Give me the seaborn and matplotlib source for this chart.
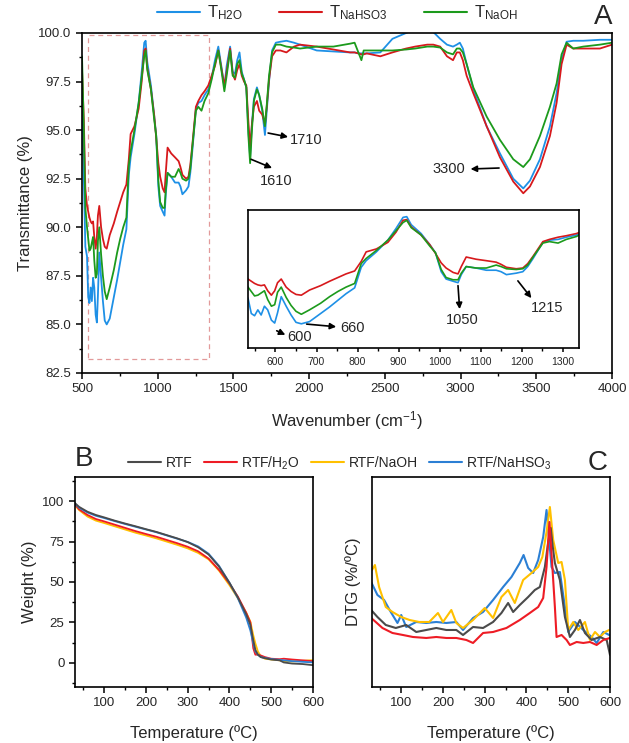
import numpy as np
import pandas as pd
import seaborn as sns
import matplotlib.pyplot as plt
from matplotlib.lines import Line2D
from matplotlib.patches import Rectangle
from matplotlib.ticker import MultipleLocator, FormatStrFormatter

# ---- FTIR spectra (panel A) ----
wavenumber = [500, 512, 522, 533, 541, 549, 557, 565, 573, 581, 590, 598,
              605, 614, 626, 638, 650, 663, 683, 710, 732, 752, 772, 793,
              809, 821, 846, 874, 894, 911, 920, 931, 955, 976, 990, 1004,
              1016, 1033, 1045, 1053, 1065, 1089, 1114, 1138, 1150, 1163,
              1187, 1203, 1215, 1228, 1252, 1268, 1289, 1309, 1334,
              1356, 1378, 1400, 1422, 1440, 1455, 1478, 1495, 1510, 1525,
              1540, 1555, 1570, 1585, 1598, 1610, 1622, 1635, 1655, 1670,
              1690, 1708, 1720, 1735, 1755, 1780, 1810, 1850, 1900, 1940,
              2050, 2160, 2270, 2300, 2325, 2345, 2360, 2380, 2470, 2550,
              2640, 2700, 2780, 2820, 2865, 2910, 2950, 2975, 2995, 3015,
              3040, 3084, 3172, 3260, 3348, 3414, 3458, 3524, 3590, 3634,
              3667, 3700, 3744, 3810, 3920, 4000]

t_nahso3 = [98.1, 95.5, 92.0, 91.1, 90.8, 90.5, 90.3, 90.2, 90.3, 89.5, 88.9, 89.5,
            90.6, 91.1, 90.0, 89.4, 89.0, 88.9, 89.6, 90.2, 90.8, 91.3, 91.8, 92.2,
            93.5, 94.8, 95.2, 96.1, 97.5, 99.1, 99.2, 98.2, 97.1, 95.8, 94.6, 93.3,
            92.6, 92.0, 91.8, 92.8, 94.1, 93.8, 93.6, 93.4, 93.1, 92.7,
            92.5, 92.6, 93.2, 94.2, 96.2, 96.5, 96.8, 97.0, 97.3,
            97.8, 98.3, 99.1, 98.1, 97.3, 98.0, 99.2, 97.9, 97.6, 98.1,
            98.4, 97.8, 97.5, 97.3, 95.5, 94.1, 95.3, 96.2, 96.5, 96.0,
            95.8, 95.3, 96.2, 97.6, 98.8, 99.1, 99.1, 99.0, 99.3, 99.4,
            99.3, 99.15, 99.0, 99.0, 98.95, 98.9, 98.9, 98.95, 98.8, 99.0,
            99.2, 99.3, 99.4, 99.4, 99.3, 98.8, 98.6, 99.0, 99.0, 98.6,
            97.8, 96.9, 95.2, 93.6, 92.35, 91.75, 92.1, 93.1, 94.7, 96.4,
            98.4, 99.4, 99.2, 99.2, 99.2, 99.4]

t_naoh = [98.8, 95.0, 91.0, 90.0, 89.4, 88.8, 88.9, 89.2, 89.5, 88.3, 87.4, 87.6,
          89.3, 90.0, 88.6, 87.5, 86.7, 86.3, 86.9, 87.8, 88.7, 89.4, 90.0, 90.5,
          93.2, 93.9, 95.0, 96.4, 97.7, 98.8, 99.1, 98.1, 97.1, 95.6, 94.7, 92.4,
          91.3, 91.0, 91.0, 91.9, 92.8, 92.6, 92.6, 93.0, 92.8, 92.5,
          92.4, 92.5, 93.0, 94.1, 96.0, 96.2, 96.0, 96.5, 96.9,
          97.6, 98.4, 99.1, 98.0, 97.0, 97.8, 99.1, 97.8, 97.7, 98.4,
          98.6, 97.9, 97.6, 97.2, 94.8, 93.3, 95.0, 96.5, 97.1, 96.8,
          96.1, 95.2, 96.3, 97.8, 99.0, 99.4, 99.4, 99.3, 99.25, 99.2,
          99.3, 99.3, 99.45, 99.5, 99.0, 98.6, 99.1, 99.1, 99.1, 99.1,
          99.15, 99.2, 99.3, 99.3, 99.25, 99.0, 98.9, 99.2, 99.2, 99.0,
          98.4, 97.2, 95.7, 94.5, 93.5, 93.1, 93.5, 94.7, 96.2, 97.4,
          98.9, 99.5, 99.2, 99.3, 99.4, 99.5]

t_h2o = [96.0, 92.5, 89.0, 88.5, 86.4, 86.1, 86.9, 86.2, 87.4, 86.9, 85.5, 85.1,
         86.5, 88.7, 87.4, 86.2, 85.2, 85.0, 85.3, 86.4, 87.3, 88.2, 89.1, 89.9,
         92.7, 93.6, 94.8, 96.4, 98.0, 99.5, 99.6, 98.5, 97.3, 95.8, 94.7, 92.1,
         91.1, 90.8, 90.6, 91.7, 92.8, 92.6, 92.3, 92.3, 92.1, 91.7,
         91.9, 92.1, 92.8, 93.9, 96.1, 96.4, 96.5, 96.8, 97.1,
         97.7, 98.6, 99.3, 98.2, 97.2, 98.3, 99.3, 98.0, 97.9, 98.6,
         99.0, 98.0, 97.6, 97.2, 95.1, 93.6, 95.3, 96.6, 97.2, 96.8,
         96.0, 94.75, 96.0, 97.5, 99.1, 99.5, 99.55, 99.6, 99.5, 99.4,
         99.1, 99.05, 99.0, 99.0, 98.95, 98.95, 98.95, 98.95, 99.0, 99.7,
         100.0, 100.2, 100.2, 100.05, 99.7, 99.4, 99.3, 99.4, 99.5, 99.2,
         98.4, 97.1, 95.2, 93.8, 92.5, 92.0, 92.4, 93.5, 95.2, 96.9,
         98.6, 99.55, 99.6, 99.6, 99.65, 99.65]

# ---- TGA (panel B) ----
tga_temp = [30, 40, 60, 80, 100, 125, 150, 175, 200, 225, 250, 275, 300, 325,
            350, 375, 400, 420, 440, 450, 457, 462, 468, 475, 485, 500, 520,
            530, 550, 575, 600]
w_rtf = [98.8, 96.5, 93.5, 91.5, 90.0, 88.0, 86.2, 84.5, 82.7, 81.0, 79.0, 77.0,
         74.7, 71.5, 67.0, 59.5, 49.5, 40.5, 30.0, 23.5, 14.0, 8.0, 5.0, 3.5,
         2.8, 2.0, 1.5, 0.2, -0.5, -0.8, -1.5]
w_h2o = [98.0, 95.0, 91.5, 89.0, 87.5, 85.5, 83.5, 81.5, 79.7, 78.0, 76.0, 74.0,
         71.8, 69.0, 64.5, 57.5, 49.0, 41.0, 31.0, 25.0, 9.0, 5.0, 5.0, 4.5,
         3.5, 2.5, 2.2, 2.5, 2.0, 1.5, 1.0]
w_naoh = [97.5, 94.5, 90.5, 88.0, 86.5, 84.5, 82.5, 80.5, 78.8, 77.0, 75.0, 73.0,
          70.8, 68.0, 64.0, 57.0, 48.0, 40.0, 31.0, 25.5, 17.0, 12.0, 7.0, 4.0,
          2.5, 2.0, 1.5, 1.0, 0.8, 1.2, 1.6]
w_nahso3 = [98.5, 96.0, 93.0, 91.0, 89.6, 87.7, 85.9, 84.2, 82.5, 80.8, 78.8, 76.8,
            74.8, 72.0, 67.5, 60.0, 49.5, 40.0, 28.0, 20.0, 12.0, 7.0, 5.0, 3.5,
            3.0, 2.3, 1.8, 1.5, 1.0, 0.6, 0.2]

# ---- DTG (panel C), arbitrary units ----
dtg_t_rtf = [28, 43, 63, 87, 112, 136, 160, 184, 208, 232, 248, 272, 296, 320,
             340, 356, 368, 384, 404, 420, 432, 444, 452, 458, 463, 468, 480,
             492, 504, 516, 528, 540, 556, 576, 592, 600]
dtg_rtf = [0.77, 0.70, 0.62, 0.59, 0.62, 0.55, 0.57, 0.59, 0.57, 0.57, 0.52,
           0.60, 0.59, 0.65, 0.74, 0.84, 0.75, 0.82, 0.90, 0.97, 1.00, 1.20,
           1.45, 1.59, 1.40, 1.24, 1.07, 0.70, 0.50, 0.57, 0.67, 0.54, 0.47,
           0.50, 0.47, 0.32]
dtg_t_h2o = [28, 39, 55, 79, 104, 128, 160, 184, 208, 232, 256, 272, 296, 320,
             352, 384, 408, 428, 440, 448, 455, 462, 468, 472, 484, 496, 504,
             520, 536, 552, 568, 584, 600]
dtg_h2o = [0.69, 0.65, 0.59, 0.54, 0.52, 0.50, 0.49, 0.50, 0.49, 0.49, 0.47,
           0.44, 0.54, 0.55, 0.59, 0.67, 0.74, 0.80, 0.89, 1.20, 1.65, 1.20,
           0.80, 0.50, 0.52, 0.47, 0.42, 0.45, 0.44, 0.45, 0.42, 0.47, 0.49]
dtg_t_naoh = [30, 37, 47, 63, 79, 100, 120, 143, 167, 188, 200, 220, 232, 248,
              272, 300, 320, 340, 356, 372, 392, 412, 428, 438, 448, 456, 464,
              476, 484, 492, 500, 512, 524, 540, 552, 564, 576, 588, 598]
dtg_naoh = [1.17, 1.22, 1.00, 0.80, 0.75, 0.70, 0.67, 0.65, 0.65, 0.74, 0.65,
            0.77, 0.64, 0.59, 0.67, 0.79, 0.69, 0.90, 0.97, 0.84, 1.07, 1.14,
            1.20, 1.30, 1.55, 1.80, 1.47, 1.24, 1.25, 1.07, 0.57, 0.65, 0.57,
            0.65, 0.47, 0.55, 0.50, 0.55, 0.57]
dtg_t_nahso3 = [28, 43, 59, 75, 91, 100, 112, 136, 160, 184, 208, 232, 248, 272,
                296, 320, 344, 364, 384, 393, 404, 416, 428, 440, 448, 460, 468,
                480, 492, 500, 516, 536, 556, 568, 584, 598]
dtg_nahso3 = [1.05, 0.92, 0.87, 0.75, 0.64, 0.72, 0.60, 0.65, 0.64, 0.65, 0.64,
              0.65, 0.57, 0.69, 0.75, 0.87, 1.00, 1.10, 1.24, 1.32, 1.19, 1.14,
              1.27, 1.50, 1.77, 1.20, 1.14, 1.15, 0.80, 0.55, 0.65, 0.57, 0.50,
              0.44, 0.55, 0.52]

ftir_names = ['T$_{H2O}$', 'T$_{NaHSO3}$', 'T$_{NaOH}$']
ftir_colors = ['#1e90e6', '#d7191c', '#1c9a1c']
tga_names = ['RTF', 'RTF/H$_2$O', 'RTF/NaOH', 'RTF/NaHSO$_3$']
tga_colors = ['#4b4b4b', '#ee1c25', '#ffc000', '#2b7fd4']

sns.set_theme(style='ticks')
plt.rcParams['font.family'] = ['Liberation Sans', 'DejaVu Sans']
plt.rcParams['mathtext.default'] = 'regular'
plt.rcParams['axes.linewidth'] = 1.2
plt.rcParams['xtick.direction'] = 'out'
plt.rcParams['ytick.direction'] = 'out'

ftir = pd.concat([
    pd.DataFrame({'wn': wavenumber, 'T': t_h2o, 's': ftir_names[0]}),
    pd.DataFrame({'wn': wavenumber, 'T': t_nahso3, 's': ftir_names[1]}),
    pd.DataFrame({'wn': wavenumber, 'T': t_naoh, 's': ftir_names[2]}),
])
tga = pd.concat([
    pd.DataFrame({'temp': tga_temp, 'w': y, 's': n})
    for y, n in zip([w_rtf, w_h2o, w_naoh, w_nahso3], tga_names)
])
dtg = pd.concat([
    pd.DataFrame({'temp': t, 'd': y, 's': n})
    for t, y, n in zip([dtg_t_rtf, dtg_t_h2o, dtg_t_naoh, dtg_t_nahso3],
                       [dtg_rtf, dtg_h2o, dtg_naoh, dtg_nahso3], tga_names)
])
ftir_pal = dict(zip(ftir_names, ftir_colors))
tga_pal = dict(zip(tga_names, tga_colors))


def style_ax(ax, size=9.5):
    for s in ax.spines.values():
        s.set_visible(True)
        s.set_color('black')
        s.set_linewidth(1.2)
    ax.tick_params(which='major', length=4, width=1.1, labelsize=size, color='black')
    ax.tick_params(which='minor', length=2.5, width=1.0, color='black')


fig = plt.figure(figsize=(6.29, 7.43), dpi=100)

# panel A
axA = fig.add_axes([0.1304, 0.498, 0.8426, 0.4576])
sns.lineplot(data=ftir, x='wn', y='T', hue='s', palette=ftir_pal, hue_order=ftir_names,
             estimator=None, lw=1.3, legend=False, ax=axA)
axA.set_xlim(500, 4000)
axA.set_ylim(82.5, 100)
axA.xaxis.set_major_locator(MultipleLocator(500))
axA.xaxis.set_minor_locator(MultipleLocator(250))
axA.yaxis.set_major_locator(MultipleLocator(2.5))
axA.yaxis.set_minor_locator(MultipleLocator(1.25))
axA.yaxis.set_major_formatter(FormatStrFormatter('%.1f'))
axA.set_xlabel('Wavenumber (cm$^{-1}$)', fontsize=12, labelpad=10)
axA.set_ylabel('Transmittance (%)', fontsize=12, labelpad=4)
style_ax(axA)
axA.add_patch(Rectangle((540, 83.2), 800, 16.7, fill=False, ls=(0, (4, 3)),
                        ec='#e29a9a', lw=0.9))
arrow = dict(arrowstyle='-|>', color='black', lw=1.2, mutation_scale=9, shrinkA=0, shrinkB=0)
axA.annotate('', xy=(1861, 94.65), xytext=(1729, 94.85), arrowprops=arrow)
axA.text(1980, 94.5, '1710', fontsize=10.5, ha='center', va='center')
axA.annotate('', xy=(1755, 93.05), xytext=(1616, 93.5), arrowprops=arrow)
axA.text(1783, 92.38, '1610', fontsize=10.5, ha='center', va='center')
axA.annotate('', xy=(3066, 93.0), xytext=(3254, 93.05), arrowprops=arrow)
axA.text(2920, 93.0, '3300', fontsize=10.5, ha='center', va='center')

# inset of A
axI = fig.add_axes([0.3943, 0.5316, 0.5262, 0.1857])
sns.lineplot(data=ftir, x='wn', y='T', hue='s', palette=ftir_pal, hue_order=ftir_names,
             estimator=None, lw=1.2, legend=False, ax=axI)
axI.set_xlim(533, 1340)
axI.set_ylim(81.7, 100.5)
axI.xaxis.set_major_locator(MultipleLocator(100))
axI.xaxis.set_minor_locator(MultipleLocator(50))
axI.set_yticks([])
axI.set_xlabel('')
axI.set_ylabel('')
style_ax(axI, size=7.5)
axI.tick_params(which='major', length=3)
axI.tick_params(which='minor', length=2)
axI.annotate('', xy=(624, 83.5), xytext=(603, 84.05), arrowprops=arrow)
axI.text(658, 83.2, '600', fontsize=10.5, ha='center', va='center')
axI.annotate('', xy=(748, 84.6), xytext=(676, 84.96), arrowprops=arrow)
axI.text(787, 84.4, '660', fontsize=10.5, ha='center', va='center')
axI.annotate('', xy=(1049, 87.0), xytext=(1045, 90.2), arrowprops=arrow)
axI.text(1056, 85.5, '1050', fontsize=10.5, ha='center', va='center')
axI.annotate('', xy=(1224, 88.5), xytext=(1191, 90.85), arrowprops=arrow)
axI.text(1263, 87.1, '1215', fontsize=10.5, ha='center', va='center')

# panel B
axB = fig.add_axes([0.1192, 0.0754, 0.3784, 0.2826])
sns.lineplot(data=tga, x='temp', y='w', hue='s', palette=tga_pal,
             hue_order=[tga_names[i] for i in (2, 1, 3, 0)],
             estimator=None, lw=1.3, legend=False, ax=axB)
axB.set_xlim(30, 600)
axB.set_ylim(-15, 115)
axB.xaxis.set_major_locator(MultipleLocator(100))
axB.xaxis.set_minor_locator(MultipleLocator(50))
axB.yaxis.set_major_locator(MultipleLocator(25))
axB.yaxis.set_minor_locator(MultipleLocator(12.5))
axB.set_xlabel('Temperature (ºC)', fontsize=12, labelpad=11)
axB.set_ylabel('Weight (%)', fontsize=12, labelpad=4)
style_ax(axB)

# panel C
axC = fig.add_axes([0.5914, 0.0754, 0.3784, 0.2826])
sns.lineplot(data=dtg, x='temp', y='d', hue='s', palette=tga_pal,
             hue_order=[tga_names[i] for i in (3, 2, 0, 1)],
             estimator=None, sort=False, lw=1.5, legend=False, ax=axC)
axC.set_xlim(30, 600)
axC.set_ylim(0, 2.1)
axC.xaxis.set_major_locator(MultipleLocator(100))
axC.xaxis.set_minor_locator(MultipleLocator(50))
axC.set_yticks([])
axC.set_xlabel('Temperature (ºC)', fontsize=12, labelpad=11)
axC.set_ylabel('DTG (%/ºC)', fontsize=12, labelpad=8)
style_ax(axC)

# legends and panel letters
hA = [Line2D([], [], color=c, lw=1.5) for c in ftir_colors]
fig.legend(hA, ftir_names, loc='center', bbox_to_anchor=(337 / 629, 1 - 13 / 743),
           ncol=3, frameon=False, fontsize=12, handlelength=2.6, handletextpad=0.4,
           columnspacing=2.2, borderaxespad=0)
hB = [Line2D([], [], color=c, lw=1.5) for c in tga_colors]
fig.legend(hB, tga_names, loc='center', bbox_to_anchor=(340 / 629, 1 - 463 / 743),
           ncol=4, frameon=False, fontsize=10, handlelength=2.4, handletextpad=0.3,
           columnspacing=0.8, borderaxespad=0)
fig.text(603 / 629, 1 - 17 / 743, 'A', fontsize=20, ha='center', va='center')
fig.text(84 / 629, 1 - 459 / 743, 'B', fontsize=20, ha='center', va='center')
fig.text(598 / 629, 1 - 463 / 743, 'C', fontsize=20, ha='center', va='center')

fig.savefig('out.png', dpi=100)
